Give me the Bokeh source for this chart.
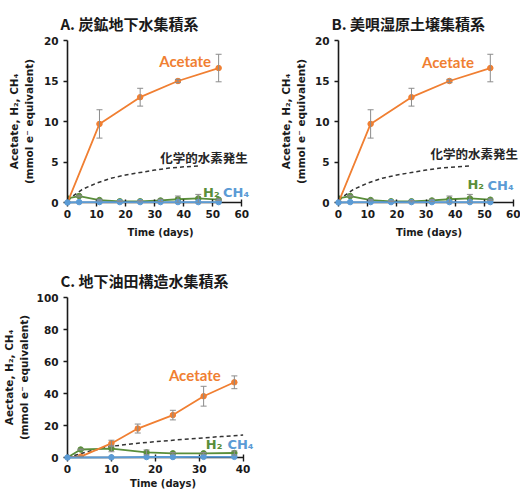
from bokeh.plotting import figure
from bokeh.layouts import column, row
from bokeh.models import ColumnDataSource, Whisker, FixedTicker, Range1d, TeeHead, Label
from bokeh.embed import file_html
from bokeh.resources import INLINE

# ---------------- data: panels A and B (same data) ----------------
ab_acetate_days = [0, 11, 25, 38, 52]
ab_acetate = [0.0, 9.7, 13.0, 15.0, 16.6]
ab_acetate_err = [0.0, 1.75, 1.1, 0.2, 1.7]

ab_gas_days = [0, 4, 11, 18, 25, 32, 38, 45, 52]
ab_h2 = [0.5, 0.8, 0.3, 0.15, 0.15, 0.25, 0.4, 0.5, 0.35]
ab_h2_err = [0.0, 0.1, 0.1, 0.05, 0.1, 0.15, 0.4, 0.5, 0.1]
ab_ch4 = [0.0, 0.05, 0.05, 0.05, 0.05, 0.05, 0.05, 0.05, 0.05]

ab_chem_days = [0, 5, 10, 15, 20, 25, 30, 35, 40, 45]
ab_chem = [0.3, 1.6, 2.4, 3.0, 3.4, 3.7, 4.0, 4.25, 4.4, 4.5]

# ---------------- data: panel C ----------------
c_acetate_days = [0, 3, 10, 16, 24, 31, 38]
c_acetate = [0.0, 0.5, 8.8, 18.1, 26.5, 38.3, 47.0]
c_acetate_err = [0.0, 0.3, 2.0, 2.8, 3.0, 6.2, 4.0]

c_h2_days = [0, 3, 10, 18, 24, 31, 38]
c_h2 = [0.0, 5.0, 5.6, 3.2, 2.6, 2.6, 2.8]
c_h2_err = [0.0, 0.3, 2.0, 1.5, 0.5, 0.5, 1.3]

c_ch4_days = [0, 10, 18, 24, 31, 38]
c_ch4 = [0.0, 0.1, 0.3, 0.3, 0.4, 0.4]

c_chem_days = [0, 5, 10, 15, 20, 25, 30, 35, 40]
c_chem = [0.0, 4.0, 7.0, 8.6, 9.9, 11.0, 12.1, 13.1, 14.0]

ab_xticks = [0, 10, 20, 30, 40, 50, 60]
ab_yticks = [0, 5, 10, 15, 20]
c_xticks = [0, 10, 20, 30, 40]
c_yticks = [0, 20, 40, 60, 80, 100]

titles = ["A. 炭鉱地下水集積系", "B. 美唄湿原土壌集積系", "C. 地下油田構造水集積系"]
ylabel_ab = "Acetate, H\u2082, CH\u2084\n(mmol e\u207b equivalent)"
ylabel_c = "Aectate, H\u2082, CH\u2084\n(mmol e\u207b equivalent)"
xlabel = "Time (days)"
chem_label = "化学的水素発生"

ORANGE = "#F07F32"
GREEN = "#5A8E3A"
BLUE = "#5B9BD5"
GRAY = "#8C8C8C"
DARK = "#1a1a1a"


def make_panel(title, w, h, bl, br, bt, bb, x_axis_end, x_view_end, xticks, y_end, yticks,
               ylabel, x_label_standoff, y_label_standoff):
    p = figure(width=w, height=h, x_range=Range1d(0, x_view_end), y_range=Range1d(0, y_end),
               output_backend="svg", toolbar_location=None,
               min_border_left=bl, min_border_right=br, min_border_top=bt, min_border_bottom=bb,
               title=title)
    p.outline_line_color = None
    p.grid.visible = False
    p.background_fill_color = "white"
    p.border_fill_color = "white"
    p.title.text_font = "Noto Sans CJK JP"
    p.title.text_font_size = "15px"
    p.title.text_font_style = "bold"
    p.title.text_color = DARK
    p.title.align = "left"
    p.title.offset = -7
    p.title.standoff = 13
    p.xaxis.ticker = FixedTicker(ticks=xticks)
    p.xaxis.bounds = (0, x_axis_end)
    p.yaxis.ticker = FixedTicker(ticks=yticks)
    for ax in (p.xaxis[0], p.yaxis[0]):
        ax.axis_line_color = DARK
        ax.axis_line_width = 1.6
        ax.major_tick_line_color = DARK
        ax.major_tick_line_width = 1.4
        ax.minor_tick_line_color = None
        ax.major_tick_out = 4
        ax.major_tick_in = 0
        ax.major_label_text_font = "DejaVu Sans"
        ax.major_label_text_font_style = "bold"
        ax.major_label_text_font_size = "10.5px"
        ax.major_label_text_color = DARK
        ax.axis_label_text_font = "DejaVu Sans"
        ax.axis_label_text_font_style = "bold"
        ax.axis_label_text_color = DARK
    p.xaxis.major_tick_in = 3
    p.xaxis.major_label_standoff = 3
    p.yaxis.major_label_standoff = 5
    p.xaxis.axis_label = xlabel
    p.xaxis.axis_label_text_font_size = "10px"
    p.xaxis.axis_label_standoff = x_label_standoff
    p.yaxis.axis_label = ylabel
    p.yaxis.axis_label_text_font_size = "10.5px"
    p.yaxis.axis_label_standoff = y_label_standoff
    return p


def whiskers(p, xs, ys, errs):
    xx, up, lo = [], [], []
    for x, y, e in zip(xs, ys, errs):
        if e > 0:
            xx.append(x)
            up.append(y + e)
            lo.append(y - e)
    src = ColumnDataSource(dict(x=xx, upper=up, lower=lo))
    wk = Whisker(source=src, base="x", upper="upper", lower="lower", dimension="height",
                 line_color=GRAY, line_width=1,
                 upper_head=TeeHead(size=6, line_color=GRAY, line_width=1),
                 lower_head=TeeHead(size=6, line_color=GRAY, line_width=1))
    wk.level = "overlay"
    p.add_layout(wk)


def series(p, xs, ys, color, size=5.5, level="glyph"):
    r1 = p.line(xs, ys, line_color=color, line_width=1.8)
    r2 = p.scatter(xs, ys, size=size, fill_color=color, line_color=color)
    r1.level = level
    r2.level = level


def label(p, x, y, text, color, font, size):
    p.add_layout(Label(x=x, y=y, x_units="data", y_units="data", text=text, text_color=color,
                       text_font=font, text_font_style="bold", text_font_size=size,
                       text_align="center", text_baseline="middle"))


def draw_ab(p, lab):
    p.line(ab_chem_days, ab_chem, line_color="#333333", line_width=1.5, line_dash="4 3")
    series(p, ab_gas_days, ab_ch4, BLUE, level="overlay")
    series(p, ab_gas_days, ab_h2, GREEN)
    whiskers(p, ab_gas_days, ab_h2, ab_h2_err)
    series(p, ab_acetate_days, ab_acetate, ORANGE)
    whiskers(p, ab_acetate_days, ab_acetate, ab_acetate_err)
    (ax, ay), (cx, cy), (hx, hy), (mx, my) = lab
    label(p, ax, ay, "Acetate", ORANGE, "Lato", "15px")
    label(p, cx, cy, chem_label, "#262626", "Noto Sans CJK JP", "12.5px")
    label(p, hx, hy, "H\u2082", GREEN, "DejaVu Sans", "13px")
    label(p, mx, my, "CH\u2084", BLUE, "DejaVu Sans", "13px")


# panel A: 0..60 days over ~174 px, view extended to 64 so labels are not clipped
pA = make_panel(titles[0], 260, 246, 67, 7, 40, 44, 60, 64, ab_xticks, 20, ab_yticks,
                ylabel_ab, 6, 6)
draw_ab(pA, ((40.5, 17.5), (47, 5.5), (49.5, 1.2), (58, 1.2)))

pB = make_panel(titles[1], 260, 246, 78, 1, 40, 44, 60, 62, ab_xticks, 20, ab_yticks,
                ylabel_ab, 6, 5)
draw_ab(pB, ((37.5, 17.3), (46.5, 6.0), (47, 2.2), (55.5, 2.1)))

pC = make_panel(titles[2], 260, 245, 66, 2, 51, 33, 40, 43.5, c_xticks, 100, c_yticks,
                ylabel_c, 2, 4)
pC.line(c_chem_days, c_chem, line_color="#333333", line_width=1.5, line_dash="4 3")
series(pC, c_ch4_days, c_ch4, BLUE, level="overlay")
series(pC, c_h2_days, c_h2, GREEN)
whiskers(pC, c_h2_days, c_h2, c_h2_err)
series(pC, c_acetate_days, c_acetate, ORANGE)
whiskers(pC, c_acetate_days, c_acetate, c_acetate_err)
label(pC, 29, 51.5, "Acetate", ORANGE, "Lato", "15px")
label(pC, 33.4, 8.3, "H\u2082", GREEN, "DejaVu Sans", "13px")
label(pC, 39.4, 8.0, "CH\u2084", BLUE, "DejaVu Sans", "13px")

layout = column(row(pA, pB), pC)
open("out.html", "w").write(file_html(layout, INLINE))
